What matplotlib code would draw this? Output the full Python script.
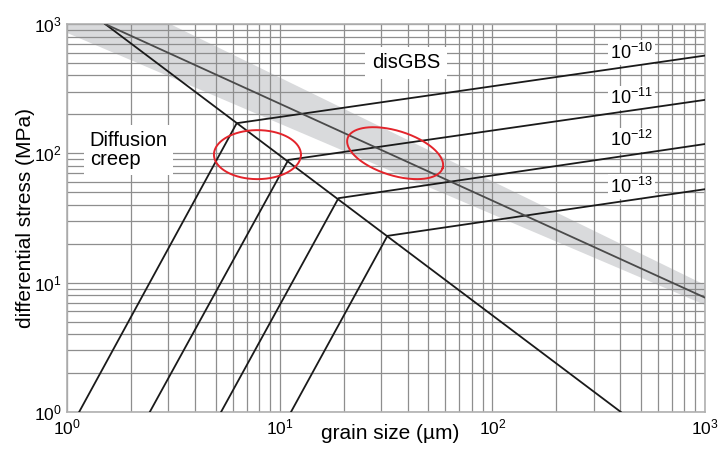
import numpy as np
import matplotlib
matplotlib.use("Agg")
import matplotlib.pyplot as plt

plt.rcParams["font.family"] = ["Liberation Sans", "DejaVu Sans"]
plt.rcParams["mathtext.fontset"] = "custom"
plt.rcParams["mathtext.rm"] = "Liberation Sans"
plt.rcParams["mathtext.it"] = "Liberation Sans:italic"
plt.rcParams["mathtext.bf"] = "Liberation Sans:bold"
plt.rcParams["mathtext.default"] = "regular"

# strain rate contours (1/s)
rate_labels = ["10^{-10}", "10^{-11}", "10^{-12}", "10^{-13}"]
# grain size (um) where each diffusion creep line reaches 1 MPa
diff_d_1mpa = [1.14, 2.45, 5.3, 11.3]
# kink where diffusion creep meets disGBS
kink_d = [6.28, 10.98, 18.9, 32.1]
kink_s = [171, 88.9, 45.0, 23.0]
# disGBS stress at d = 1000 um
gbs_s_1000 = [570, 259, 118, 52.8]

# field boundary diffusion creep / disGBS
bound_d = [1.51, 402]
bound_s = [1000, 1]
# piezometer line
piezo_d = [1.51, 1000]
piezo_s = [1000, 7.66]
# grey band around the piezometer
band_d = [1, 3.05, 1000, 1000, 1]
band_s = [1000, 1000, 9.6, 6.72, 853]

fig = plt.figure(figsize=(7.23, 4.51), dpi=100)
ax = fig.add_axes([0.0927, 0.0865, 0.8824, 0.8603])
ax.set_xscale("log")
ax.set_yscale("log")
ax.set_xlim(1, 1000)
ax.set_ylim(1, 1000)

ax.fill(band_d, band_s, color="#d9dadc", lw=0, zorder=0.2)
ax.set_axisbelow(True)
ax.grid(True, which="both", color="#8e8e8e", lw=0.9)

line_col = "#1a1a1a"
for i in range(len(rate_labels)):
    ax.plot([diff_d_1mpa[i], kink_d[i], 1000], [1, kink_s[i], gbs_s_1000[i]],
            color=line_col, lw=1.3, zorder=3)
ax.plot(bound_d, bound_s, color=line_col, lw=1.3, zorder=3)
ax.plot(piezo_d, piezo_s, color="#4a4a4a", lw=1.3, zorder=3)


def ellipse(xc, yc, a_px, b_px, ang):
    # ellipse drawn in screen pixels, mapped back to log data space
    pos = ax.get_position()
    px_x = pos.width * fig.get_figwidth() * fig.dpi / np.ptp(np.log10(ax.get_xlim()))
    px_y = pos.height * fig.get_figheight() * fig.dpi / np.ptp(np.log10(ax.get_ylim()))
    t = np.linspace(0, 2 * np.pi, 300)
    th = np.radians(ang)
    X = a_px * np.cos(t) * np.cos(th) - b_px * np.sin(t) * np.sin(th)
    Y = a_px * np.cos(t) * np.sin(th) + b_px * np.sin(t) * np.cos(th)
    ax.plot(10 ** (np.log10(xc) + X / px_x), 10 ** (np.log10(yc) + Y / px_y),
            color="#e3242b", lw=1.4, zorder=4)


ellipse(7.86, 97.7, 43.5, 24.5, 0)
ellipse(34.9, 100.3, 49.8, 22.3, -17.4)

box = dict(facecolor="white", edgecolor="none", pad=4)
ax.text(1.28, 106, "Diffusion\ncreep", fontsize=14.5, ha="left", va="center",
        linespacing=1.05, bbox=box, zorder=2.5)
ax.text(39.2, 500, "disGBS", fontsize=14.5, ha="center", va="center",
        bbox=dict(facecolor="white", edgecolor="none", pad=5), zorder=2.5)
label_s = [601, 267, 127, 55.3]
for lab, s in zip(rate_labels, label_s):
    ax.text(451, s, "$" + lab + "$", fontsize=13, ha="center", va="center",
            bbox=dict(facecolor="white", edgecolor="none", pad=1.5), zorder=2.5)

ax.tick_params(which="both", length=0, labelsize=12.5)
ax.tick_params(axis="x", pad=4)
ax.tick_params(axis="y", pad=4)
ax.set_xlabel("grain size (µm)", fontsize=15)
ax.set_ylabel("differential stress (MPa)", fontsize=15)
ax.xaxis.set_label_coords(0.507, -0.03)
ax.yaxis.set_label_coords(-0.05, 0.5)

for sp in ax.spines.values():
    sp.set_color("#b0b0b0")
    sp.set_linewidth(1.2)

fig.savefig("out.png", dpi=100)
